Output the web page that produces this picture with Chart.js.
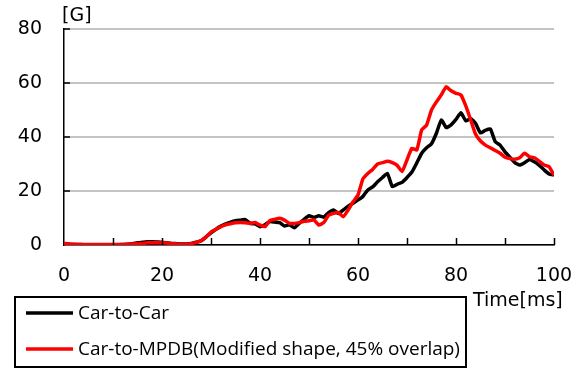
<!DOCTYPE html>
<html>
<head>
<meta charset="utf-8">
<script src="https://cdn.jsdelivr.net/npm/chart.js@4"></script>
<style>
  html, body { margin: 0; padding: 0; background: #fff; }
  #wrap { width: 582px; height: 369px; position: relative; }
</style>
</head>
<body>
<div id="wrap"><canvas id="c" width="582" height="369"></canvas></div>
<script>
// Time axis in ms (1 ms steps)
const timeMs = Array.from({ length: 101 }, (_, i) => i);

// Deceleration [G], Car-to-Car test
const carToCar = [
  0.5, 0.3, 0.2, 0.2, 0.1, 0.1, 0.1, 0.1, 0.1, 0.1,
  0.1, 0.1, 0.2, 0.3, 0.5, 0.8, 1.0, 1.2, 1.2, 1.1,
  1.0, 0.8, 0.6, 0.5, 0.4, 0.4, 0.6, 1.0, 1.6, 3.0,
  4.5, 5.8, 7.0, 7.8, 8.5, 9.0, 9.2, 9.4, 8.0, 7.8,
  6.8, 7.5, 8.7, 8.5, 8.3, 7.0, 7.5, 6.4, 8.0, 9.5,
  10.8, 10.2, 10.8, 10.3, 12.0, 13.0, 11.7, 13.0, 14.4, 15.5,
  16.7, 18.0, 20.4, 21.5, 23.4, 25.0, 26.5, 21.6, 22.5, 23.2,
  25.0, 27.0, 30.4, 34.0, 36.0, 37.5, 41.4, 46.3, 43.5, 44.5,
  46.5, 49.0, 46.0, 46.8, 45.0, 41.5, 42.5, 43.0, 38.3, 37.0,
  34.5, 32.5, 30.5, 29.6, 30.5, 31.7, 30.8, 29.5, 27.8, 26.3,
  25.9
];

// Deceleration [G], Car-to-MPDB test
const carToMpdb = [
  0.6, 0.4, 0.3, 0.2, 0.2, 0.2, 0.2, 0.2, 0.2, 0.2,
  0.2, 0.2, 0.2, 0.3, 0.4, 0.5, 0.6, 0.8, 0.8, 0.8,
  0.8, 0.7, 0.5, 0.4, 0.3, 0.3, 0.5, 1.0, 1.7, 3.0,
  4.8, 5.8, 6.8, 7.5, 7.9, 8.2, 8.3, 8.2, 8.0, 8.3,
  7.4, 6.8, 9.0, 9.5, 9.9, 9.2, 8.0, 8.0, 8.3, 8.8,
  9.0, 9.3, 7.4, 8.3, 11.0, 11.7, 12.0, 10.5, 13.0, 16.0,
  18.5, 24.5, 26.5, 28.0, 30.0, 30.5, 31.0, 30.5, 29.5, 27.2,
  31.5, 35.8, 35.2, 42.6, 44.4, 50.0, 53.0, 55.6, 58.6, 57.1,
  56.2, 55.6, 51.5, 46.3, 41.0, 38.5, 37.0, 36.0, 35.0, 34.0,
  32.5, 32.0, 31.8, 32.3, 34.0, 32.7, 32.3, 31.0, 29.6, 29.0,
  25.9
];

const seriesNames = ['Car-to-Car', 'Car-to-MPDB(Modified shape, 45% overlap)'];
const seriesColors = ['#000000', '#ff0000'];
const xTicks = [0, 20, 40, 60, 80, 100];
const yTicks = [0, 20, 40, 60, 80];
const yUnit = '[G]';
const xUnit = 'Time[ms]';

const tickFont = { family: 'DejaVu Sans', size: 19 };

// Inward tick marks, unit labels and the boxed legend
const decorations = {
  id: 'decorations',
  afterDraw(chart) {
    const { ctx, chartArea: a, scales: { x, y } } = chart;
    ctx.save();
    ctx.strokeStyle = '#000';
    ctx.lineWidth = 1.5;
    ctx.beginPath();
    for (let t = 10; t <= 100; t += 10) {
      const px = Math.round(x.getPixelForValue(t)) + 0.5;
      ctx.moveTo(px, a.bottom);
      ctx.lineTo(px, a.bottom - 7);
    }
    yTicks.slice(1).forEach(v => {
      const py = Math.round(y.getPixelForValue(v));
      ctx.moveTo(a.left, py);
      ctx.lineTo(a.left + 6, py);
    });
    ctx.stroke();

    ctx.fillStyle = '#000';
    ctx.font = '19px "DejaVu Sans"';
    ctx.textBaseline = 'middle';
    ctx.textAlign = 'left';
    ctx.fillText(yUnit, 62, 16);
    ctx.fillText(xUnit, 473, 301);

    // legend box
    ctx.lineWidth = 2;
    ctx.strokeRect(15, 297, 451, 70);
    const rows = [313, 349];
    ctx.font = '19px "Open Sans"';
    seriesNames.forEach((name, i) => {
      ctx.strokeStyle = seriesColors[i];
      ctx.lineWidth = 3.5;
      ctx.beginPath();
      ctx.moveTo(26, rows[i]);
      ctx.lineTo(73, rows[i]);
      ctx.stroke();
      ctx.fillStyle = '#000';
      ctx.fillText(name, 78, rows[i] + 1);
    });
    ctx.restore();
  }
};

new Chart(document.getElementById('c'), {
  type: 'line',
  data: {
    labels: timeMs,
    datasets: [
      {
        label: seriesNames[1],
        data: carToMpdb.map((v, i) => ({ x: timeMs[i], y: v })),
        borderColor: seriesColors[1],
        borderWidth: 3.5,
        pointRadius: 0,
        tension: 0.15,
        order: 0
      },
      {
        label: seriesNames[0],
        data: carToCar.map((v, i) => ({ x: timeMs[i], y: v })),
        borderColor: seriesColors[0],
        borderWidth: 3.5,
        pointRadius: 0,
        tension: 0.15,
        order: 1
      }
    ]
  },
  options: {
    responsive: false,
    animation: false,
    events: [],
    layout: { padding: { left: 0, right: 28, top: 29, bottom: 0 } },
    plugins: { legend: { display: false }, tooltip: { enabled: false } },
    scales: {
      x: {
        type: 'linear',
        min: 0, max: 100,
        afterFit(s) { s.height = 124; s.paddingLeft = 0; s.paddingRight = 0; },
        afterBuildTicks(s) { s.ticks = xTicks.map(v => ({ value: v })); },
        grid: { display: false, drawTicks: false },
        border: { color: '#000', width: 1.5 },
        ticks: { font: tickFont, color: '#000', padding: 20, maxRotation: 0 }
      },
      y: {
        min: 0, max: 80,
        afterFit(s) { s.width = 64; s.paddingTop = 0; s.paddingBottom = 0; },
        afterBuildTicks(s) { s.ticks = yTicks.map(v => ({ value: v })); },
        grid: { color: '#c4c4c4', lineWidth: 2, drawTicks: false },
        border: { color: '#000', width: 1.5 },
        ticks: { font: tickFont, color: '#000', padding: 22 }
      }
    }
  },
  plugins: [decorations]
});
</script>
</body>
</html>
